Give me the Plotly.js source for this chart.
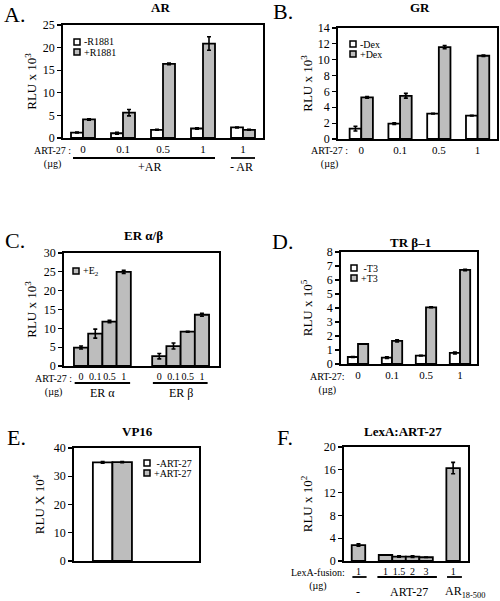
<!DOCTYPE html>
<html><head><meta charset="utf-8">
<script src="https://cdn.plot.ly/plotly-3.0.1.min.js"></script>
<style>html,body{margin:0;padding:0;background:#fff}#chart{width:500px;height:601px}</style>
</head><body><div id="chart"></div>
<script>
// ---------- DATA ----------
// A. AR
const arDoses = ['0', '0.1', '0.5', '1', '1'];
const arMinusR1881 = [1.2, 1.05, 1.8, 2.1, 2.35];
const arMinusR1881Err = [0.1, 0.2, 0.1, 0.15, 0.1];
const arPlusR1881 = [4.1, 5.6, 16.4, 20.9, 1.8];
const arPlusR1881Err = [0.15, 0.7, 0.2, 1.5, 0.1];
// B. GR
const grDoses = ['0', '0.1', '0.5', '1'];
const grMinusDex = [1.3, 1.95, 3.2, 2.95];
const grMinusDexErr = [0.3, 0.1, 0.05, 0.05];
const grPlusDex = [5.25, 5.45, 11.6, 10.5];
const grPlusDexErr = [0.1, 0.3, 0.2, 0.1];
// C. ER alpha / beta (+E2)
const erDoses = ['0', '0.1', '0.5', '1'];
const erAlpha = [4.9, 8.6, 11.8, 25.0];
const erAlphaErr = [0.4, 1.2, 0.3, 0.4];
const erBeta = [2.6, 5.3, 9.1, 13.6];
const erBetaErr = [0.7, 0.8, 0.1, 0.4];
// D. TR beta-1
const trDoses = ['0', '0.1', '0.5', '1'];
const trMinusT3 = [0.5, 0.45, 0.6, 0.79];
const trMinusT3Err = [0.03, 0.06, 0.03, 0.07];
const trPlusT3 = [1.43, 1.65, 4.05, 6.72];
const trPlusT3Err = [0.02, 0.07, 0.03, 0.05];
// E. VP16
const vpMinusArt = [34.9];
const vpMinusArtErr = [0.3];
const vpPlusArt = [35.0];
const vpPlusArtErr = [0.2];
// F. LexA:ART-27
const lexGroups = ['-', 'ART-27', 'AR18-500'];
const lexDoses = [['1'], ['1', '1.5', '2', '3'], ['1']];
const lexValues = [[2.8], [1.05, 0.78, 0.78, 0.66], [16.3]];
const lexErr = [[0.2], [0.05, 0.12, 0.15, 0.05], [1.0]];

// ---------- HELPERS ----------
const W = 500, H = 601;
const FONT = 'Liberation Serif';
const GRAY = '#bdbdbd';
const px = v => v / W;
const py = v => 1 - v / H;
const idx = a => a.map((_, i) => i);

function barTrace(x, y, err, color, xa, ya, extra) {
  return Object.assign({
    type: 'bar', x: x, y: y, xaxis: xa, yaxis: ya,
    marker: {color: color, line: {color: '#000', width: 1.8}},
    error_y: {type: 'data', array: err, visible: true, color: '#000', thickness: 1.6, width: 2},
    showlegend: false, hoverinfo: 'skip'
  }, extra || {});
}
function xAxis(l, r, anchor, range, tickvals, ticktext, fsize) {
  return {
    domain: [px(l), px(r)], anchor: anchor, range: range,
    tickvals: tickvals, ticktext: ticktext, showticklabels: !!tickvals, tickangle: 0,
    ticks: '', showline: true, mirror: true, linecolor: '#000', linewidth: 1.8,
    showgrid: false, zeroline: false, fixedrange: true,
    tickfont: {family: FONT, size: fsize || 11, color: '#000'}
  };
}
function yAxis(t, b, anchor, range, dtick, title, standoff) {
  return {
    domain: [py(b), py(t)], anchor: anchor, range: range, dtick: dtick, tick0: 0,
    ticks: 'outside', ticklen: 4, tickwidth: 1.2, tickcolor: '#000',
    showline: true, mirror: true, linecolor: '#000', linewidth: 1.8,
    showgrid: false, zeroline: false, fixedrange: true,
    tickfont: {family: FONT, size: 12, color: '#000'},
    title: {text: title, font: {family: FONT, size: 13, color: '#000'}, standoff: standoff}
  };
}

const traces = [];
// A
traces.push(barTrace(idx(arDoses), arMinusR1881, arMinusR1881Err, '#fff', 'x', 'y'));
traces.push(barTrace(idx(arDoses), arPlusR1881, arPlusR1881Err, GRAY, 'x', 'y'));
// B
traces.push(barTrace(idx(grDoses), grMinusDex, grMinusDexErr, '#fff', 'x2', 'y2'));
traces.push(barTrace(idx(grDoses), grPlusDex, grPlusDexErr, GRAY, 'x2', 'y2'));
// C
const erAlphaX = idx(erDoses);
const erBetaX = idx(erDoses).map(i => i + erDoses.length + 1.5);
traces.push(barTrace(erAlphaX.concat(erBetaX), erAlpha.concat(erBeta), erAlphaErr.concat(erBetaErr), GRAY, 'x3', 'y3', {width: 1}));
// D
traces.push(barTrace(idx(trDoses), trMinusT3, trMinusT3Err, '#fff', 'x4', 'y4'));
traces.push(barTrace(idx(trDoses), trPlusT3, trPlusT3Err, GRAY, 'x4', 'y4'));
// E
traces.push(barTrace([0], vpMinusArt, vpMinusArtErr, '#fff', 'x5', 'y5'));
traces.push(barTrace([0], vpPlusArt, vpPlusArtErr, GRAY, 'x5', 'y5'));
// F
const lexX = [], lexY = [], lexE = [], lexT = [], lexGroupSpan = [];
let pos = 0;
lexValues.forEach((g, gi) => {
  const start = pos;
  g.forEach((v, j) => { lexX.push(pos); lexY.push(v); lexE.push(lexErr[gi][j]); lexT.push(lexDoses[gi][j]); pos += 1; });
  lexGroupSpan.push([start, pos - 1]);
  pos += 1;
});
traces.push(barTrace(lexX, lexY, lexE, GRAY, 'x6', 'y6', {width: 1}));

// ---------- ANNOTATIONS / SHAPES ----------
const ann = [];
const shapes = [];
function txt(x, y, text, size, opts) {
  ann.push(Object.assign({xref: 'paper', yref: 'paper', x: px(x), y: py(y), text: text, showarrow: false,
    xanchor: 'center', yanchor: 'middle', borderpad: 0, font: {family: FONT, size: size, color: '#000'}}, opts || {}));
}
function dtxt(xref, x, y, text, size, opts) {
  ann.push(Object.assign({xref: xref, yref: 'paper', x: x, y: py(y), text: text, showarrow: false,
    xanchor: 'center', yanchor: 'middle', borderpad: 0, font: {family: FONT, size: size, color: '#000'}}, opts || {}));
}
function dline(xref, x0, x1, y) {
  shapes.push({type: 'line', xref: xref, yref: 'paper', x0: x0, x1: x1, y0: py(y), y1: py(y), line: {color: '#000', width: 1.8}});
}
function legendBox(x, y, color) {
  shapes.push({type: 'rect', xref: 'paper', yref: 'paper', x0: px(x - 3), x1: px(x + 3), y0: py(y + 3), y1: py(y - 3),
    fillcolor: color, line: {color: '#000', width: 1.5}});
}
// Panel letters
txt(14, 15, 'A.', 22); txt(283, 12, 'B.', 22); txt(15, 240, 'C.', 22);
txt(282, 242, 'D.', 22); txt(16, 437, 'E.', 22); txt(285, 437, 'F.', 22);
// Panel titles
txt(160, 8, '<b>AR</b>', 13); txt(420, 8, '<b>GR</b>', 13);
txt(143, 235, '<b>ER α/β</b>', 13); txt(410, 243, '<b>TR β–1</b>', 13);
txt(137, 431, '<b>VP16</b>', 13); txt(403, 431, '<b>LexA:ART-27</b>', 13);
// Dose labels (two lines each)
txt(52, 157, 'ART-27 :<br>(µg)', 10);
txt(329, 157, 'ART-27 :<br>(µg)', 10);
txt(53, 385, 'ART-27 :<br>(µg)', 10);
txt(327, 383, 'ART-27:<br>(µg)', 10);
txt(318, 579, 'LexA-fusion:<br>(µg)', 10);
// A group lines
dline('x', -0.25, 3.3, 158); dtxt('x', 1.65, 167, '+AR', 12);
dline('x', 3.7, 4.3, 158); dtxt('x', 3.95, 167, '- AR', 12);
// C group lines
dline('x3', erAlphaX[0] - 0.45, erAlphaX[3] + 0.45, 383); dtxt('x3', (erAlphaX[0] + erAlphaX[3]) / 2, 393, 'ER α', 12);
dline('x3', erBetaX[0] - 0.45, erBetaX[3] + 0.4, 383); dtxt('x3', (erBetaX[0] + erBetaX[3]) / 2, 393, 'ER β', 12);
// F group lines
dline('x6', lexGroupSpan[0][0] - 0.45, lexGroupSpan[0][1] + 0.6, 577); dtxt('x6', lexGroupSpan[0][0], 592, '-', 12);
dline('x6', lexGroupSpan[1][0] - 0.6, lexGroupSpan[1][1] + 0.8, 577); dtxt('x6', (lexGroupSpan[1][0] + lexGroupSpan[1][1]) / 2 + 0.2, 592, 'ART-27', 12);
dline('x6', lexGroupSpan[2][0] - 0.45, lexGroupSpan[2][1] + 0.65, 577); dtxt('x6', lexGroupSpan[2][0] - 0.65, 592, 'AR<sub>18-500</sub>', 12, {xanchor: 'left'});
// Legends
legendBox(77, 42, '#fff'); txt(83, 42, '-R1881', 10, {xanchor: 'left'});
legendBox(77, 52, GRAY); txt(83, 52, '+R1881', 10, {xanchor: 'left'});
legendBox(353, 44, '#fff'); txt(359, 44, '-Dex', 10, {xanchor: 'left'});
legendBox(353, 54, GRAY); txt(359, 54, '+Dex', 10, {xanchor: 'left'});
legendBox(76, 271, GRAY); txt(82, 271, '+E<sub>2</sub>', 10, {xanchor: 'left'});
legendBox(354, 268, '#fff'); txt(360, 268, ' -T3', 10, {xanchor: 'left'});
legendBox(354, 278, GRAY); txt(360, 278, '+T3', 10, {xanchor: 'left'});
legendBox(147, 463, '#fff'); txt(153, 463, ' -ART-27', 10, {xanchor: 'left'});
legendBox(147, 473, GRAY); txt(153, 473, '+ART-27', 10, {xanchor: 'left'});

const layout = {
  width: W, height: H, margin: {l: 0, r: 0, t: 0, b: 0},
  paper_bgcolor: '#fff', plot_bgcolor: '#fff',
  barmode: 'group', bargap: 0.4, bargroupgap: 0,
  font: {family: FONT, color: '#000'},
  showlegend: false,
  xaxis: xAxis(63, 263, 'y', [-0.5, 4.5], idx(arDoses), arDoses),
  yaxis: yAxis(25, 138, 'x', [0, 25], 5, 'RLU x 10<sup>3</sup>', 3),
  xaxis2: xAxis(338, 497, 'y2', [-0.6, 3.5], idx(grDoses), grDoses),
  yaxis2: yAxis(28, 139, 'x2', [0, 14], 2, 'RLU x 10<sup>3</sup>', 2),
  xaxis3: xAxis(64, 219, 'y3', [-1.2, 9.7], erAlphaX.concat(erBetaX), erDoses.concat(erDoses), 10),
  yaxis3: yAxis(253, 366, 'x3', [0, 30], 5, 'RLU x 10<sup>3</sup>', 4),
  xaxis4: xAxis(341, 477, 'y4', [-0.5, 3.5], idx(trDoses), trDoses),
  yaxis4: yAxis(252, 364, 'x4', [0, 8], 1, 'RLU x 10<sup>5</sup>', 11),
  xaxis5: xAxis(74, 199, 'y5', [-0.59, 1.33], null, null),
  yaxis5: yAxis(448, 561, 'x5', [0, 40], 10, 'RLU X 10<sup>4</sup>', 6),
  xaxis6: xAxis(344, 468, 'y6', [-1.07, 8.1], lexX, lexT, 10),
  yaxis6: yAxis(447, 561, 'x6', [0, 20], 4, 'RLU x 10<sup>2</sup>', 8),
  annotations: ann, shapes: shapes
};
Plotly.newPlot('chart', traces, layout, {staticPlot: true, displayModeBar: false});
</script></body></html>
